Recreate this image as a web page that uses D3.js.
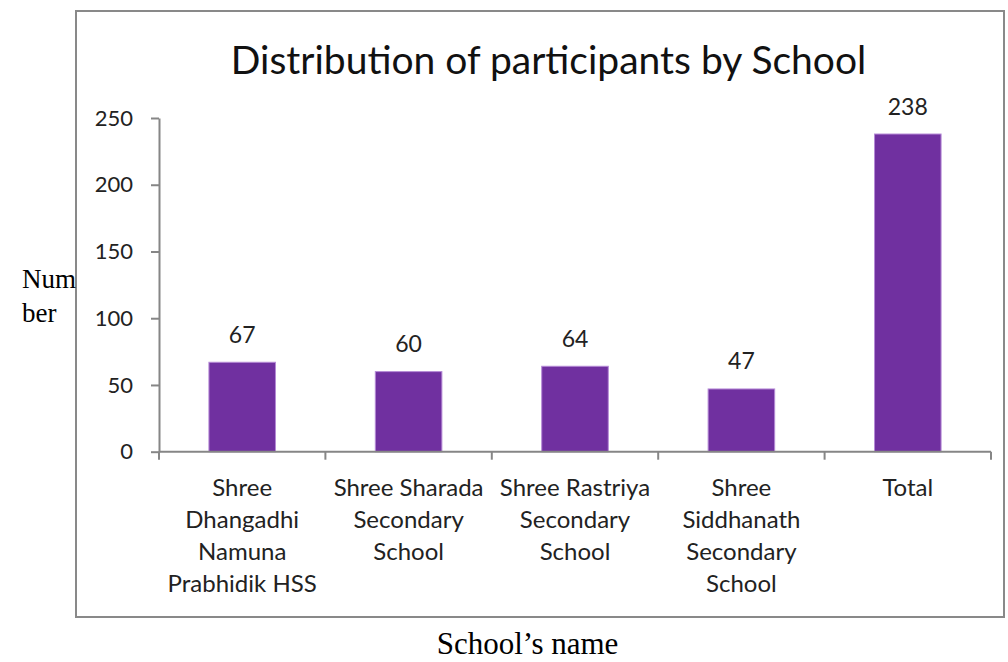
<!DOCTYPE html>
<html><head><meta charset="utf-8">
<script src="https://cdn.jsdelivr.net/npm/d3@7"></script>
<style>body{margin:0;background:#fff}svg{display:block}</style>
</head><body>
<svg id="c" width="1008" height="662"></svg>
<script>
const categories = [
  ["Shree","Dhangadhi","Namuna","Prabhidik HSS"],
  ["Shree Sharada","Secondary","School"],
  ["Shree Rastriya","Secondary","School"],
  ["Shree","Siddhanath","Secondary","School"],
  ["Total"]
];
const values = [67, 60, 64, 47, 238];
const yTicks = [0, 50, 100, 150, 200, 250];
const title = "Distribution of participants by School";
const yTitle = ["Num", "ber"];
const xTitle = "School\u2019s name";

const svg = d3.select("#c");
const font = "Lato, 'Open Sans', sans-serif";
const serif = "'Liberation Serif', 'DejaVu Serif', serif";

// frame
svg.append("rect").attr("x",76).attr("y",11).attr("width",928).attr("height",606)
  .attr("fill","#fff").attr("stroke","#898989").attr("stroke-width",2);

const x = d3.scaleBand().domain(d3.range(values.length)).range([159, 991]).padding(0);
const y = d3.scaleLinear().domain([0, 250]).range([451.7, 118]);

svg.append("text").attr("x",548.5).attr("y",74).attr("text-anchor","middle")
  .attr("font-family",font).attr("font-size",39).attr("fill","#111").text(title);

// y axis
const ya = svg.append("g").attr("transform","translate(159,0)")
  .call(d3.axisLeft(y).tickValues(yTicks).tickSize(8).tickPadding(18).tickSizeOuter(0));
ya.select(".domain").attr("stroke","#868686").attr("stroke-width",2);
ya.selectAll(".tick line").attr("stroke","#868686").attr("stroke-width",2);
ya.selectAll(".tick text").attr("font-family",font).attr("font-size",22).attr("fill","#222");

// bars
const bw = x.bandwidth()*0.4;
svg.selectAll("rect.bar").data(values).join("rect").attr("class","bar")
  .attr("x",(d,i)=>x(i)+x.bandwidth()/2-bw/2).attr("width",bw)
  .attr("y",d=>y(d)).attr("height",d=>y(0)-y(d))
  .attr("fill","#7030A0").attr("stroke","#b58ad6").attr("stroke-width",1);

svg.selectAll("text.lbl").data(values).join("text").attr("class","lbl")
  .attr("x",(d,i)=>x(i)+x.bandwidth()/2).attr("y",d=>y(d)-19.5)
  .attr("text-anchor","middle").attr("font-family",font).attr("font-size",23).attr("fill","#222")
  .text(d=>d);

// x axis
const xa = svg.append("g").attr("transform",`translate(0,${y(0)})`);
xa.append("line").attr("x1",159).attr("x2",991).attr("stroke","#868686").attr("stroke-width",2);
const edges = d3.range(values.length+1).map(i=> i<values.length ? x(i) : x(values.length-1)+x.bandwidth());
xa.selectAll("line.tk").data(edges).join("line").attr("class","tk")
  .attr("x1",d=>d).attr("x2",d=>d).attr("y1",0).attr("y2",8)
  .attr("stroke","#868686").attr("stroke-width",2);

categories.forEach((lines,i)=>{
  const t = svg.append("text").attr("text-anchor","middle").attr("font-family",font)
    .attr("font-size",24).attr("fill","#222");
  lines.forEach((l,j)=>{
    t.append("tspan").attr("x",x(i)+x.bandwidth()/2).attr("y",496+j*32).text(l);
  });
});

// axis titles
yTitle.forEach((l,j)=>{
  svg.append("text").attr("x",22).attr("y",288+j*34).attr("font-family",serif)
    .attr("font-size",27).attr("fill","#000").text(l);
});
svg.append("text").attr("x",527.5).attr("y",654).attr("text-anchor","middle")
  .attr("font-family",serif).attr("font-size",31).attr("fill","#000").text(xTitle);
</script>
</body></html>
